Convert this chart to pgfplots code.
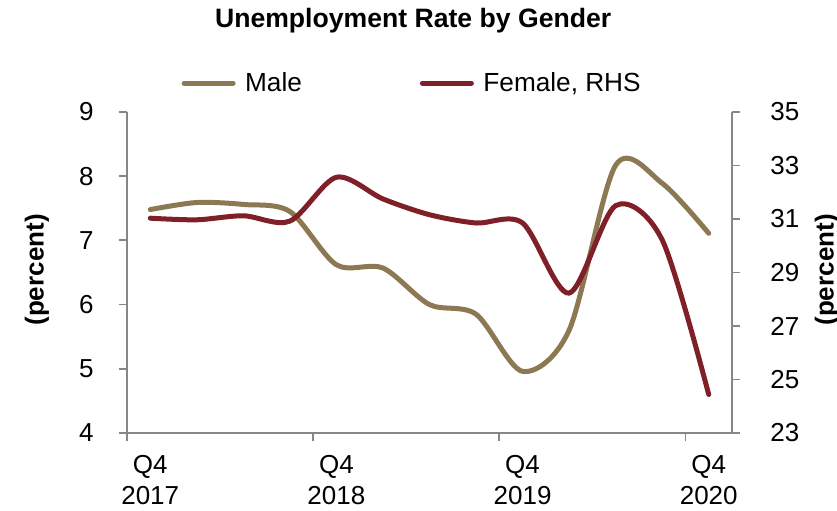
\documentclass[border=0pt]{standalone}
\usepackage{fontspec}
\setmainfont{Liberation Sans}
\usepackage{pgfplots}
\pgfplotsset{compat=1.18}
\definecolor{maleC}{HTML}{8C7853}
\definecolor{femC}{HTML}{7F1F28}
\definecolor{axC}{HTML}{878787}

\pgfplotstableread{
x male female
0 7.48 31.03
1 7.59 30.97
2 7.56 31.12
3 7.45 30.92
4 6.62 32.56
5 6.57 31.75
6 6.00 31.16
7 5.85 30.85
8 4.96 30.85
9 5.60 28.23
10 8.17 31.50
11 7.89 30.22
12 7.11 24.44
}\datatable

\begin{document}
\begin{tikzpicture}
\pgfplotsset{
  base/.style={
    scale only axis, width=302.5pt, height=160.5pt,
    xmin=-0.5, xmax=12.5,
    tick align=outside, major tick length=4pt,
    axis line style={axC, line width=0.9pt},
    every tick/.style={axC, line width=0.9pt},
    tick label style={font=\fontsize{13}{15.5}\selectfont},
    /pgf/number format/assume math mode=true,
    clip=false,
  }
}
\begin{axis}[base,
  axis y line*=left, axis x line*=bottom,
  ymin=4, ymax=9, ytick={4,5,6,7,8,9},
  xtick={-0.5,3.5,7.5,11.5}, xticklabels={},
  extra x ticks={0,4,8,12},
  extra x tick labels={{Q4\\2017},{Q4\\2018},{Q4\\2019},{Q4\\2020}},
  extra x tick style={major tick length=0pt,
    xticklabel style={align=center, anchor=north, inner sep=0pt, yshift=-11pt}},
  yticklabel style={anchor=east, inner sep=0pt, xshift=-12.5pt},
  ylabel={(percent)},
  ylabel style={at={(axis description cs:-0.149,0.508)}, anchor=center,
    font=\fontsize{13}{15}\selectfont\bfseries},
]
\addplot[maleC, line width=2.5pt, line cap=round, smooth] table[x=x, y=male] {\datatable};
\node[anchor=center, font=\fontsize{13.3}{16}\selectfont\bfseries]
  at (rel axis cs:0.473,1.285) {Unemployment Rate by Gender};
\coordinate (SW) at (rel axis cs:-0.2099,-0.2399);
\coordinate (NE) at (rel axis cs:1.1736,1.3489);
\end{axis}
\begin{axis}[base,
  axis y line*=right, axis x line=none,
  ymin=23, ymax=35, ytick={23,25,...,35},
  yticklabel style={anchor=west, inner sep=0pt, xshift=15pt},
  ylabel={(percent)},
  ylabel style={at={(axis description cs:1.157,0.508)}, anchor=center,
    font=\fontsize{13}{15}\selectfont\bfseries},
  legend columns=2,
  legend image code/.code={\draw[#1] (1.25pt,0pt) -- (25.75pt,0pt); \path (28.5pt,0pt);},
  legend style={draw=none, fill=none, at={(axis description cs:0.473,1.09)}, anchor=center,
    font=\fontsize{13.1}{15.5}\selectfont,
    /tikz/every even column/.append style={column sep=57pt}},
]
\addlegendimage{maleC, line width=2.5pt, line cap=round}
\addlegendentry{Male}
\addplot[femC, line width=2.5pt, line cap=round, smooth] table[x=x, y=female] {\datatable};
\addlegendentry{Female, RHS}
\end{axis}
\pgfresetboundingbox
\path[use as bounding box] (SW) rectangle (NE);
\end{tikzpicture}
\end{document}
